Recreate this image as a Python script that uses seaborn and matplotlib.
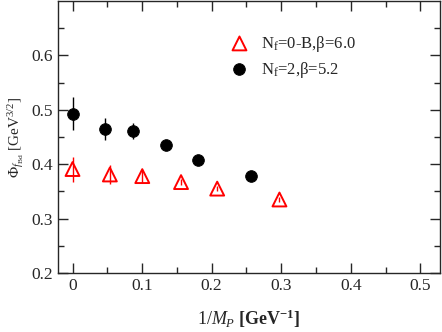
import numpy as np
import pandas as pd
import matplotlib.pyplot as plt
import seaborn as sns

# N_f=0-B, beta=6.0 (open red triangles)
x_q = [0.0, 0.0537, 0.1003, 0.156, 0.208, 0.2975]
y_q = [0.391, 0.381, 0.378, 0.367, 0.355, 0.335]
e_q = [0.023, 0.018, 0.012, 0.006, 0.005, 0.004]

# N_f=2, beta=5.2 (filled black circles)
x_d = [0.0, 0.0465, 0.0873, 0.135, 0.181, 0.257]
y_d = [0.493, 0.465, 0.461, 0.4345, 0.408, 0.379]
e_d = [0.031, 0.020, 0.015, 0.006, 0.006, 0.005]

sns.set_style('ticks')
plt.rcParams['font.family'] = ['Liberation Serif', 'DejaVu Serif']
plt.rcParams['mathtext.fontset'] = 'custom'
plt.rcParams['mathtext.rm'] = 'Liberation Serif'
plt.rcParams['mathtext.it'] = 'Liberation Serif:italic'
plt.rcParams['mathtext.bf'] = 'Liberation Serif:bold'

fig = plt.figure(figsize=(4.42, 3.32), dpi=100)
ax = fig.add_axes([0.131, 0.178, 0.864, 0.819])

quench = pd.DataFrame({'x': x_q, 'y': y_q})
dyn = pd.DataFrame({'x': x_d, 'y': y_d})

ax.errorbar(x_q, y_q, yerr=e_q, fmt='none', ecolor='red', elinewidth=1.0, zorder=2)
ax.errorbar(x_d, y_d, yerr=e_d, fmt='none', ecolor='black', elinewidth=1.0, zorder=2)

sns.scatterplot(data=quench, x='x', y='y', ax=ax, marker='^', s=100,
                facecolor='none', edgecolor='red', linewidth=1.4,
                label=r'N$_\mathrm{f}$=0-B,β=6.0', zorder=3)
sns.scatterplot(data=dyn, x='x', y='y', ax=ax, marker='o', s=70,
                color='black', edgecolor='black',
                label=r'N$_\mathrm{f}$=2,β=5.2', zorder=3)

ax.set_xlim(-0.021, 0.528)
ax.set_ylim(0.2, 0.7)
ax.set_xticks([0, 0.1, 0.2, 0.3, 0.4, 0.5])
ax.set_xticklabels(['0', '0.1', '0.2', '0.3', '0.4', '0.5'])
ax.set_yticks([0.2, 0.3, 0.4, 0.5, 0.6])
ax.set_xticks(np.arange(0.05, 0.55, 0.1), minor=True)
ax.set_yticks(np.arange(0.25, 0.7, 0.1), minor=True)
ax.tick_params(which='both', direction='in', top=True, right=True, labelsize=12.5, width=1)
ax.tick_params(which='major', length=7)
ax.tick_params(which='minor', length=4)
for s in ax.spines.values():
    s.set_linewidth(1.0)

ax.set_xlabel(r'$\mathit{1/M_P}$ [GeV$^{\mathbf{-1}}$]', fontsize=13, fontweight='bold', labelpad=10)
ax.set_ylabel(r'$\Phi_{f_{\mathrm{Bd}}}$ [GeV$^{3/2}$]', fontsize=11, labelpad=4)

ax.legend(loc='upper left', bbox_to_anchor=(0.41, 0.91), frameon=False,
          fontsize=12, handletextpad=0.3, labelspacing=0.35, borderpad=0)

fig.savefig('out.png', dpi=100)
